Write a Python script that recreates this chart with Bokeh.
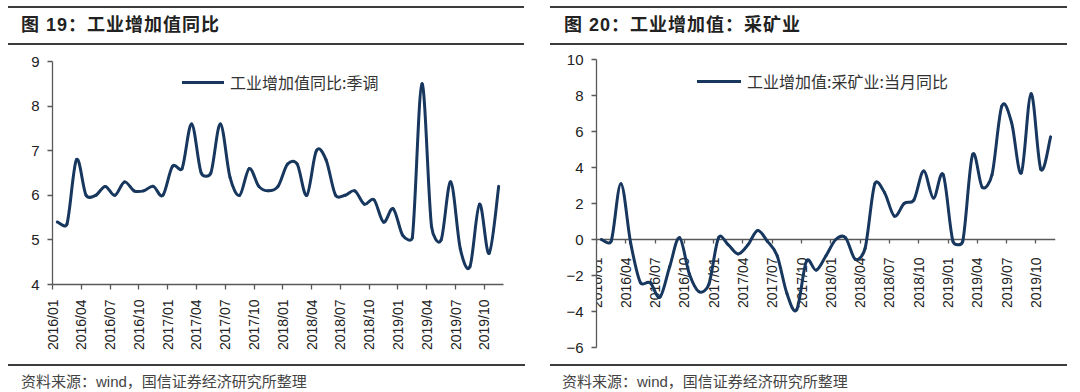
import numpy as np
from math import pi
from bokeh.plotting import figure
from bokeh.models import FixedTicker, Range1d, Div, ColumnDataSource
from bokeh.layouts import row, column
from bokeh.embed import file_html
from bokeh.resources import INLINE

# ---------------- data ----------------
tick_labels = ["2016/01", "2016/04", "2016/07", "2016/10",
               "2017/01", "2017/04", "2017/07", "2017/10",
               "2018/01", "2018/04", "2018/07", "2018/10",
               "2019/01", "2019/04", "2019/07", "2019/10"]

# 工业增加值同比:季调, monthly 2016/01 - 2019/11
iva_sa = [5.4, 5.35, 6.8, 6.0, 6.0, 6.2, 6.0, 6.3, 6.1, 6.1, 6.2, 6.0,
          6.65, 6.6, 7.6, 6.5, 6.5, 7.6, 6.4, 6.0, 6.6, 6.2, 6.1, 6.2,
          6.7, 6.7, 6.0, 7.0, 6.8, 6.0, 6.0, 6.1, 5.8, 5.9, 5.4, 5.7,
          5.1, 5.05, 8.5, 5.3, 5.0, 6.3, 4.8, 4.4, 5.8, 4.7, 6.2]

# 工业增加值:采矿业:当月同比, monthly 2016/01 - 2019/11
mining = [0.0, -0.1, 3.1, -0.2, -2.4, -2.4, -3.2, -1.5, 0.1, -1.9, -2.9, -2.5,
          0.1, -0.3, -0.8, -0.3, 0.5, -0.1, -0.9, -3.0, -3.9, -1.2, -1.7, -0.9,
          0.0, 0.1, -1.1, -0.5, 3.1, 2.6, 1.3, 2.0, 2.2, 3.8, 2.3, 3.6,
          -0.1, -0.1, 4.7, 2.9, 3.6, 7.4, 6.5, 3.7, 8.1, 3.9, 5.7]

left_title = "图 19：工业增加值同比"
right_title = "图 20：工业增加值：采矿业"
left_legend = "工业增加值同比:季调"
right_legend = "工业增加值:采矿业:当月同比"
source_note = "资料来源：wind，国信证券经济研究所整理"

LINE_COLOR = "#17375E"
AXIS_COLOR = "#595959"
TEXT_COLOR = "#222222"
RULE = "2px solid #3c3c3c"
CJK = "'Noto Sans CJK SC'"
LATIN = "'Liberation Sans'"

FIG_H = 319
X_MAX = 47


def smooth_source(vals, px_x, px_y):
    """Bezier segments through the monthly points, using a spreadsheet-style
    smoothing (tangent from neighbours, handle capped at half the segment,
    measured in screen pixels). x = month index centred in its month."""
    y = np.asarray(vals, dtype=float)
    x = np.arange(len(y)) + 0.5
    P = np.column_stack([x * px_x, y * px_y])
    n = len(P)
    cols = {k: [] for k in ("x0", "y0", "x1", "y1", "cx0", "cy0", "cx1", "cy1")}
    for k in range(n - 1):
        p0 = P[k - 1] if k > 0 else P[k]
        p1 = P[k]
        p2 = P[k + 1]
        p3 = P[k + 2] if k + 2 < n else P[k + 1]
        d02 = np.hypot(*(p2 - p0))
        d13 = np.hypot(*(p3 - p1))
        d12 = np.hypot(*(p2 - p1))
        f1 = 1 / 6 if d02 / 6 < d12 / 2 else (d12 / 2) / d02
        f2 = 1 / 6 if d13 / 6 < d12 / 2 else (d12 / 2) / d13
        c1 = p1 + f1 * (p2 - p0)
        c2 = p2 - f2 * (p3 - p1)
        cols["x0"].append(x[k]); cols["y0"].append(y[k])
        cols["x1"].append(x[k + 1]); cols["y1"].append(y[k + 1])
        cols["cx0"].append(c1[0] / px_x); cols["cy0"].append(c1[1] / px_y)
        cols["cx1"].append(c2[0] / px_x); cols["cy1"].append(c2[1] / px_y)
    return ColumnDataSource(cols)


def style_axes(p):
    for ax in (p.xaxis, p.yaxis):
        ax.axis_line_color = AXIS_COLOR
        ax.axis_line_width = 1.3
        ax.major_tick_line_color = AXIS_COLOR
        ax.major_tick_line_width = 1.3
        ax.minor_tick_line_color = None
        ax.major_tick_in = 0
        ax.major_tick_out = 5
        ax.major_label_text_color = TEXT_COLOR
        ax.major_label_text_font = LATIN
    p.yaxis.major_label_text_font_size = "15px"
    p.yaxis.major_label_standoff = 8
    p.xaxis.major_label_text_font_size = "14px"
    p.xaxis.major_label_orientation = pi / 2
    p.xaxis.ticker = FixedTicker(ticks=[3 * i for i in range(len(tick_labels))])
    p.xaxis.major_label_overrides = {3 * i: lab for i, lab in enumerate(tick_labels)}
    p.xgrid.visible = False
    p.ygrid.visible = False
    p.outline_line_color = None


def style_legend(p, loc, glyph_w):
    lg = p.legend[0]
    lg.location = loc
    lg.padding = 0
    lg.margin = 0
    lg.border_line_color = None
    lg.background_fill_alpha = 0
    lg.glyph_width = glyph_w
    lg.glyph_height = 20
    lg.label_height = 20
    lg.label_standoff = 6
    lg.label_text_font = CJK
    lg.label_text_font_size = "16px"
    lg.label_text_color = "#333333"


# ---------------- left chart ----------------
L_W, L_BL, L_BR, L_BT, L_BB = 536, 52, 33, 16, 80
p1 = figure(width=L_W, height=FIG_H, output_backend="svg", toolbar_location=None,
            x_range=Range1d(0, X_MAX), y_range=Range1d(4, 9),
            min_border_left=L_BL, min_border_right=L_BR, min_border_top=L_BT,
            min_border_bottom=L_BB, background_fill_color="white",
            border_fill_color="white")
src1 = smooth_source(iva_sa, (L_W - L_BL - L_BR) / X_MAX, (FIG_H - L_BT - L_BB) / 5)
p1.bezier(x0="x0", y0="y0", x1="x1", y1="y1", cx0="cx0", cy0="cy0",
          cx1="cx1", cy1="cy1", source=src1,
          line_color=LINE_COLOR, line_width=3, line_cap="round",
          legend_label=left_legend)
style_axes(p1)
p1.yaxis.ticker = FixedTicker(ticks=[4, 5, 6, 7, 8, 9])
p1.xaxis.major_label_standoff = 10
style_legend(p1, (130, 190), 42)

# ---------------- right chart ----------------
R_W, R_BL, R_BR, R_BT, R_BB = 544, 60, 25, 14, 17
p2 = figure(width=R_W, height=FIG_H, output_backend="svg", toolbar_location=None,
            x_range=Range1d(0, X_MAX), y_range=Range1d(-6, 10),
            min_border_left=R_BL, min_border_right=R_BR, min_border_top=R_BT,
            min_border_bottom=R_BB, background_fill_color="white",
            border_fill_color="white")
src2 = smooth_source(mining, (R_W - R_BL - R_BR) / X_MAX, (FIG_H - R_BT - R_BB) / 16)
p2.bezier(x0="x0", y0="y0", x1="x1", y1="y1", cx0="cx0", cy0="cy0",
          cx1="cx1", cy1="cy1", source=src2,
          line_color=LINE_COLOR, line_width=3, line_cap="round",
          legend_label=right_legend)
style_axes(p2)
p2.yaxis.ticker = FixedTicker(ticks=list(range(-6, 11, 2)))
p2.xaxis.fixed_location = 0
p2.xaxis.major_tick_out = 4
p2.xaxis.major_label_standoff = 14
p2.xaxis.level = "underlay"
style_legend(p2, (101, 254), 44)


# ---------------- titles / notes ----------------
def title_html(text, width, ml, pl):
    return (f'<div style="box-sizing:border-box;width:{width}px;height:39px;'
            f'margin-left:{ml}px;margin-top:6px;border-top:{RULE};'
            f'border-bottom:{RULE};padding-left:{pl}px;'
            f'font-family:{LATIN},{CJK},sans-serif;font-weight:bold;'
            f'font-size:18px;letter-spacing:1px;line-height:35px;'
            f'color:{TEXT_COLOR};white-space:nowrap;">{text}</div>')


def note_html(text, width, ml, pl):
    return (f'<div style="box-sizing:border-box;width:{width}px;height:28px;'
            f'margin-left:{ml}px;border-top:{RULE};padding-top:5px;'
            f'padding-left:{pl}px;font-family:{LATIN},{CJK},sans-serif;'
            f'font-size:15px;line-height:21px;color:#444444;'
            f'white-space:nowrap;">{text}</div>')


t1 = Div(text=title_html(left_title, 516, 8, 13), width=L_W, height=45, margin=0)
t2 = Div(text=title_html(right_title, 517, 14, 14), width=R_W, height=45, margin=0)
f1 = Div(text=note_html(source_note, 517, 8, 13), width=L_W, height=28, margin=0)
f2 = Div(text=note_html(source_note, 517, 14, 12), width=R_W, height=28, margin=0)

layout = row(column(t1, p1, f1, spacing=0), column(t2, p2, f2, spacing=0), spacing=0)

open("out.html", "w").write(file_html(layout, INLINE))
